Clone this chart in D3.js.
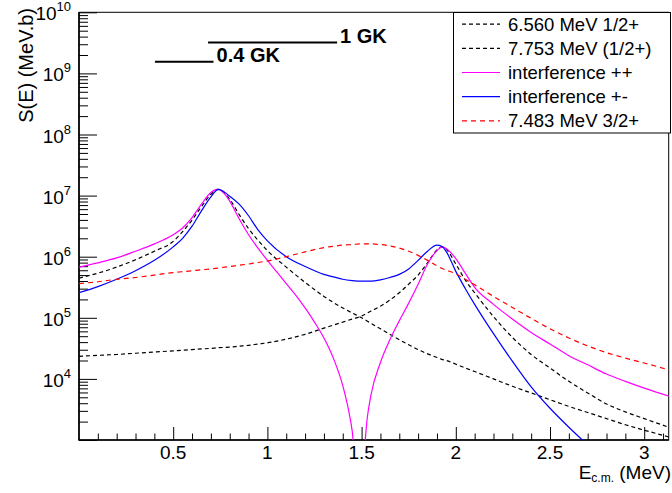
<!DOCTYPE html>
<html><head><meta charset="utf-8">
<script src="https://cdn.jsdelivr.net/npm/d3@7"></script>
<style>
body{margin:0;background:#fff}
svg{display:block}
text{font-family:"Liberation Sans",Arial,Helvetica,sans-serif;fill:#000}
</style>
</head><body>
<svg id="c" width="672" height="493"></svg>
<script>
// ---- data ----
const energy = [0,0.1,0.2,0.3,0.4,0.5,0.55,0.6,0.65,0.7,0.74,0.8,0.85,0.9,0.95,1.0,1.1,1.2,1.3,1.35,1.4,1.45,1.5,1.55,1.6,1.65,1.7,1.75,1.8,1.85,1.9,1.925,1.95,2.0,2.05,2.1,2.2,2.3,2.4,2.5,2.6,2.7,2.8,2.9,3.0,3.14];
// 6.560 MeV 1/2+
const s6560 = [4.47e5,5.37e5,6.76e5,8.91e5,1.23e6,1.78e6,2.57e6,3.98e6,6.61e6,1.05e7,1.26e7,8.71e6,4.90e6,2.88e6,1.86e6,1.26e6,6.76e5,3.80e5,2.24e5,1.78e5,1.45e5,1.20e5,1.00e5,8.13e4,6.61e4,5.37e4,4.37e4,3.63e4,3.02e4,2.57e4,2.24e4,2.09e4,2.00e4,1.74e4,1.51e4,1.32e4,1.00e4,7.59e3,5.89e3,4.57e3,3.55e3,2.82e3,2.24e3,1.78e3,1.45e3,1.10e3];
// 7.753 MeV (1/2+)
const s7753 = [2.34e4,2.43e4,2.51e4,2.63e4,2.75e4,2.88e4,2.95e4,3.02e4,3.09e4,3.16e4,3.24e4,3.31e4,3.43e4,3.55e4,3.72e4,3.89e4,4.47e4,5.37e4,6.76e4,7.59e4,8.51e4,9.55e4,1.07e5,1.29e5,1.55e5,1.95e5,2.57e5,3.55e5,5.01e5,7.94e5,1.29e6,1.45e6,1.32e6,7.59e5,4.17e5,2.57e5,1.05e5,4.79e4,2.51e4,1.51e4,9.12e3,5.89e3,3.89e3,2.88e3,2.24e3,1.58e3];
// interference +-
const sMinus = [2.57e5,3.24e5,4.27e5,5.89e5,8.71e5,1.45e6,2.00e6,3.16e6,5.62e6,9.55e6,1.26e7,9.77e6,7.24e6,4.68e6,2.75e6,1.82e6,1.00e6,6.92e5,5.13e5,4.68e5,4.27e5,4.07e5,3.98e5,3.98e5,4.17e5,4.57e5,5.13e5,6.31e5,8.71e5,1.23e6,1.55e6,1.48e6,1.20e6,5.75e5,3.02e5,1.66e5,5.50e4,1.95e4,7.41e3,3.31e3,1.62e3,832,null,null,null,null];
// 7.483 MeV 3/2+
const s7483 = [3.63e5,3.89e5,4.27e5,4.57e5,5.01e5,5.50e5,5.69e5,5.89e5,6.10e5,6.31e5,6.53e5,6.92e5,7.24e5,7.59e5,8.04e5,8.51e5,1.00e6,1.20e6,1.41e6,1.48e6,1.55e6,1.58e6,1.62e6,1.62e6,1.58e6,1.50e6,1.38e6,1.23e6,1.05e6,8.71e5,7.08e5,6.46e5,6.03e5,5.25e5,4.27e5,3.47e5,2.24e5,1.48e5,9.77e4,6.61e4,4.68e4,3.47e4,2.69e4,2.19e4,1.82e4,1.38e4];
// interference ++
const energyPP = [0,0.1,0.2,0.3,0.4,0.5,0.55,0.6,0.65,0.7,0.735,0.78,0.8,0.85,0.9,0.95,1.0,1.05,1.1,1.15,1.2,1.25,1.3,1.35,1.4,1.43,1.45,1.47,1.51,1.53,1.55,1.6,1.65,1.7,1.75,1.8,1.85,1.9,1.93,1.95,2.0,2.05,2.1,2.2,2.3,2.4,2.5,2.6,2.7,2.8,2.9,3.0,3.14];
const sPlus = [6.76e5,7.94e5,9.55e5,1.23e6,1.62e6,2.29e6,2.95e6,4.37e6,7.24e6,1.12e7,1.26e7,1.00e7,8.13e6,4.17e6,2.29e6,1.38e6,8.71e5,5.62e5,3.63e5,2.34e5,1.45e5,8.51e4,4.68e4,2.19e4,7.76e3,3.16e3,1.41e3,363,575,2.29e3,5.50e3,1.86e4,4.37e4,8.91e4,1.74e5,3.55e5,7.59e5,1.26e6,1.45e6,1.35e6,9.33e5,5.37e5,3.16e5,1.66e5,9.55e4,5.75e4,3.72e4,2.40e4,1.70e4,1.20e4,9.12e3,7.08e3,5.13e3];

const gamowLabels = ["1 GK","0.4 GK"];
const gamowLow = [0.685,0.403];
const gamowHigh = [1.37,0.714];
const gamowLevel = [3.2e9,1.55e9];

const xTickLabels = [0.5,1,1.5,2,2.5,3];
const yTickExps = [4,5,6,7,8,9,10];
const legendLabels = ["6.560 MeV 1/2+","7.753 MeV (1/2+)","interference ++","interference +-","7.483 MeV 3/2+"];

// ---- drawing ----
const svg = d3.select("#c");
const L=79, R=668.7, T=12.3, B=440;
const x = d3.scaleLinear().domain([0,3.13]).range([L,R]);
const y = d3.scaleLog().domain([1e3,1e10]).range([B,T]);

svg.append("defs").append("clipPath").attr("id","clip")
  .append("rect").attr("x",L).attr("y",T).attr("width",R-L).attr("height",B-T);

// minor/major ticks
const yMinor=[]; for(let e=3;e<10;e++) for(let m=2;m<=9;m++) yMinor.push(m*Math.pow(10,e));
const yMajor=d3.range(3,11).map(e=>Math.pow(10,e));
const xMinor=d3.range(1,32).map(i=>i/10).filter(v=>Math.abs(v*2-Math.round(v*2))>1e-6);

const gy = svg.append("g").attr("transform",`translate(${L},0)`);
gy.call(d3.axisLeft(y).tickValues(yMinor).tickSizeInner(-9).tickSizeOuter(0).tickFormat(""));
gy.append("g").call(d3.axisLeft(y).tickValues(yMajor).tickSizeInner(-18).tickSizeOuter(0).tickFormat(""));
const gx = svg.append("g").attr("transform",`translate(0,${B})`);
gx.call(d3.axisBottom(x).tickValues(xMinor).tickSizeInner(-6.5).tickSizeOuter(0).tickFormat(""));
gx.append("g").call(d3.axisBottom(x).tickValues(xTickLabels).tickSizeInner(-13).tickSizeOuter(0).tickFormat(""));
svg.selectAll(".domain").remove();
svg.selectAll(".tick line").attr("stroke","#000").attr("stroke-width",1);

// frame
svg.append("rect").attr("x",L).attr("y",T).attr("width",R-L).attr("height",B-T)
  .attr("fill","none").attr("stroke","#000").attr("stroke-width",1);
svg.append("line").attr("x1",L).attr("x2",L).attr("y1",T).attr("y2",B+0.5).attr("stroke","#000").attr("stroke-width",1.6);
svg.append("line").attr("x1",L).attr("x2",R).attr("y1",B).attr("y2",B).attr("stroke","#000").attr("stroke-width",1.6);

// tick labels
svg.selectAll(".xl").data(xTickLabels).enter().append("text")
  .attr("x",d=>x(d)).attr("y",459).attr("text-anchor","middle").attr("font-size",19).text(d=>d);
const yl = svg.selectAll(".yl").data(yTickExps).enter().append("text")
  .attr("x",71).attr("y",d=>y(Math.pow(10,d))+8).attr("text-anchor","end").attr("font-size",19);
yl.append("tspan").text("10");
yl.append("tspan").attr("font-size",13).attr("dy",-9).text(d=>d);

// axis titles
const xt = svg.append("text").attr("x",671).attr("y",479).attr("text-anchor","end").attr("font-size",19);
xt.append("tspan").text("E");
xt.append("tspan").attr("font-size",12).attr("dy",3).text("c.m.");
xt.append("tspan").attr("dy",-3).text(" (MeV)");
svg.append("text").attr("transform","translate(33,8) rotate(-90)").attr("text-anchor","end")
  .attr("font-size",20).text("S(E) (MeV.b)");

// curves
const series = [
  {e:energy, s:s6560, color:"#000", dash:"4,3"},
  {e:energy, s:s7753, color:"#000", dash:"4,3"},
  {e:energyPP, s:sPlus, color:"#ff00ff", dash:null},
  {e:energy, s:sMinus, color:"#0000ff", dash:null},
  {e:energy, s:s7483, color:"#ff0000", dash:"5,4"}
];
const line = d3.line().defined(d=>d[1]!=null).x(d=>x(d[0])).y(d=>y(d[1])).curve(d3.curveMonotoneX);
const gc = svg.append("g").attr("clip-path","url(#clip)");
series.forEach(sr=>{
  gc.append("path").datum(sr.e.map((v,i)=>[v,sr.s[i]]))
    .attr("d",line).attr("fill","none").attr("stroke",sr.color).attr("stroke-width",1.2)
    .attr("stroke-dasharray",sr.dash);
});

// Gamow window annotations
gamowLabels.forEach((t,i)=>{
  svg.append("line").attr("x1",x(gamowLow[i])).attr("x2",x(gamowHigh[i]))
    .attr("y1",y(gamowLevel[i])).attr("y2",y(gamowLevel[i])).attr("stroke","#000").attr("stroke-width",2);
  svg.append("text").attr("x",x(gamowHigh[i])+3).attr("y",y(gamowLevel[i])).attr("font-size",20)
    .attr("font-weight","bold").text(t);
});

// legend
const lg = svg.append("g");
lg.append("rect").attr("x",453.5).attr("y",12.5).attr("width",217).attr("height",120.5)
  .attr("fill","#fff").attr("stroke","#000").attr("stroke-width",1);
legendLabels.forEach((t,i)=>{
  const cy = 24.1 + i*24.2, sr = series[i];
  lg.append("line").attr("x1",462).attr("x2",500).attr("y1",cy).attr("y2",cy)
    .attr("stroke",sr.color).attr("stroke-width",1.2).attr("stroke-dasharray",sr.dash);
  lg.append("text").attr("x",508).attr("y",cy+6.5).attr("font-size",18.5).text(t);
});
</script>
</body></html>
